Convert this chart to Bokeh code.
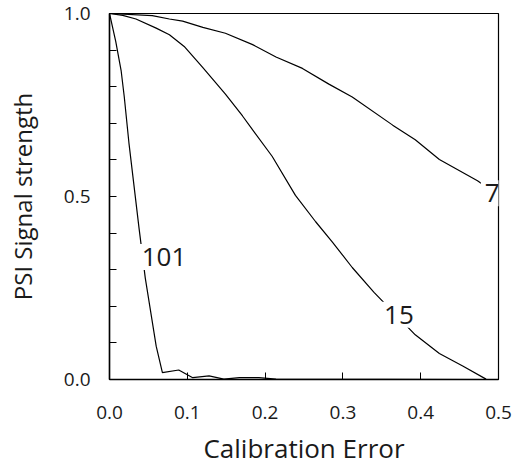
from bokeh.plotting import figure
from bokeh.models import Range1d, FixedTicker, PrintfTickFormatter, Label
from bokeh.embed import file_html
from bokeh.resources import INLINE

# Data
x7 = [0.0, 0.055, 0.077, 0.094, 0.12, 0.149, 0.184, 0.214, 0.248, 0.282, 0.312, 0.364, 0.393, 0.424, 0.473, 0.485]
y7 = [1.0, 0.994, 0.985, 0.979, 0.962, 0.946, 0.915, 0.881, 0.850, 0.807, 0.772, 0.695, 0.655, 0.601, 0.543, 0.525]

x15 = [0.0, 0.017, 0.034, 0.06, 0.077, 0.096, 0.12, 0.149, 0.171, 0.184, 0.209, 0.239, 0.265, 0.286, 0.312, 0.340, 0.393, 0.424, 0.454, 0.484]
y15 = [1.0, 0.995, 0.985, 0.960, 0.942, 0.910, 0.852, 0.780, 0.720, 0.682, 0.610, 0.503, 0.431, 0.377, 0.306, 0.238, 0.122, 0.071, 0.037, 0.001]

x101 = [0.0, 0.008, 0.015, 0.019, 0.025, 0.038, 0.046, 0.06, 0.068, 0.089, 0.107, 0.128, 0.147, 0.167, 0.192, 0.214, 0.49]
y101 = [1.0, 0.924, 0.843, 0.772, 0.646, 0.413, 0.277, 0.091, 0.019, 0.026, 0.005, 0.010, 0.001, 0.005, 0.005, 0.001, 0.0]

label_text = ["7", "15", "101"]
label_x = [0.492, 0.372, 0.070]
label_y = [0.509, 0.177, 0.335]

x_ticks = [0.0, 0.1, 0.2, 0.3, 0.4, 0.5]
y_major_ticks = [0.0, 0.5, 1.0]
y_minor_ticks = [0.1, 0.2, 0.3, 0.4, 0.6, 0.7, 0.8, 0.9]

FONT = "Open Sans"
TXT = "#1a1a1a"

p = figure(frame_width=389, frame_height=366, output_backend="svg", toolbar_location=None,
           x_range=Range1d(0, 0.5), y_range=Range1d(0, 1),
           min_border_left=109, min_border_top=13, min_border_right=20, min_border_bottom=5)

p.xgrid.visible = False
p.ygrid.visible = False
p.outline_line_color = "black"
p.outline_line_width = 1.2
p.background_fill_color = "white"
p.border_fill_color = "white"

for xs, ys in [(x7, y7), (x15, y15), (x101, y101)]:
    p.line(xs, ys, line_color="black", line_width=1.2)

p.xaxis.ticker = FixedTicker(ticks=x_ticks, minor_ticks=[])
p.yaxis.ticker = FixedTicker(ticks=y_major_ticks, minor_ticks=y_minor_ticks)
p.xaxis.formatter = PrintfTickFormatter(format="%.1f")
p.yaxis.formatter = PrintfTickFormatter(format="%.1f")

for ax in (p.xaxis[0], p.yaxis[0]):
    ax.axis_line_color = "black"
    ax.axis_line_width = 1.5
    ax.major_tick_in = 7
    ax.major_tick_out = 0
    ax.minor_tick_in = 7
    ax.minor_tick_out = 0
    ax.major_tick_line_color = "black"
    ax.minor_tick_line_color = "black"
    ax.major_label_text_font = FONT
    ax.major_label_text_font_size = "19px"
    ax.major_label_text_color = TXT
    ax.axis_label_text_font = FONT
    ax.axis_label_text_font_style = "normal"
    ax.axis_label_text_color = TXT

p.xaxis.axis_label = "Calibration Error"
p.xaxis.axis_label_text_font_size = "26px"
p.xaxis.major_label_standoff = 26
p.xaxis.axis_label_standoff = 8

p.yaxis.axis_label = "PSI Signal strength"
p.yaxis.axis_label_text_font_size = "24px"
p.yaxis.major_label_standoff = 19
p.yaxis.axis_label_standoff = 22

for t, lx, ly in zip(label_text, label_x, label_y):
    p.add_layout(Label(x=lx, y=ly, text=t, text_font=FONT, text_font_size="26px",
                       text_color=TXT, text_align="center", text_baseline="middle",
                       background_fill_color="white", padding=4, level="overlay"))

open("out.html", "w").write(file_html(p, INLINE))
